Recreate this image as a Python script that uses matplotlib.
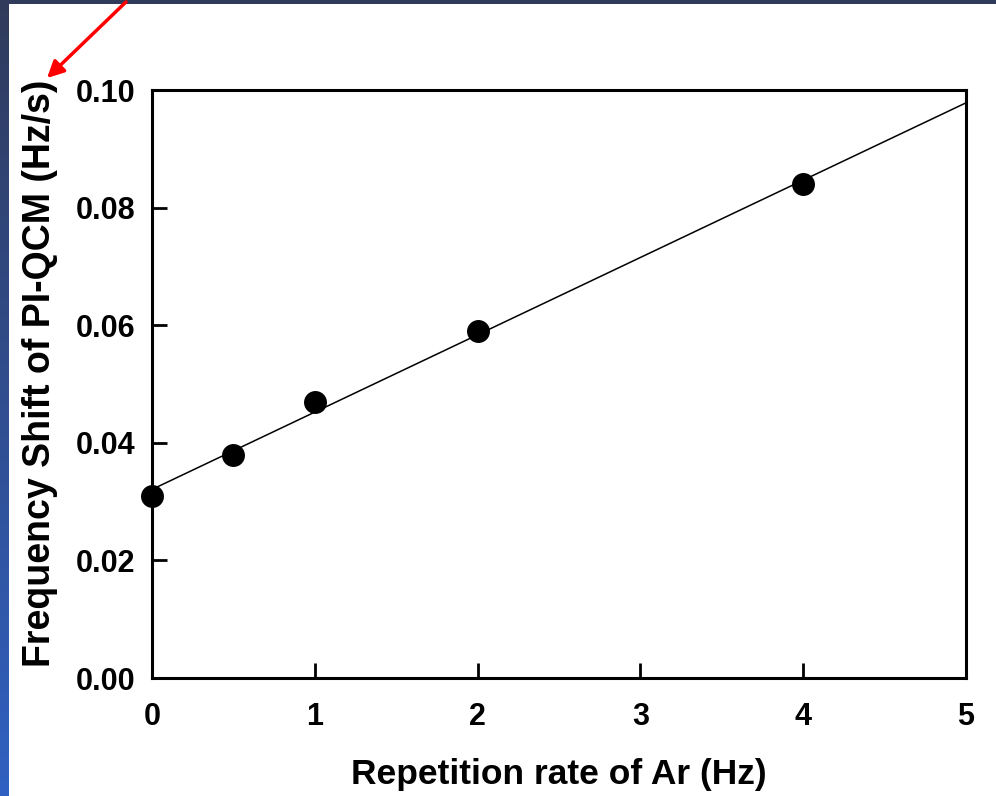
import numpy as np
import matplotlib.pyplot as plt
from matplotlib.patches import FancyArrowPatch, Rectangle

plt.rcParams['font.family'] = ['Liberation Sans', 'DejaVu Sans']
plt.rcParams['font.weight'] = 'bold'

# measured points
rep_rate = [0, 0.5, 1, 2, 4]
freq_shift = [0.031, 0.038, 0.047, 0.059, 0.084]
x_ticks = [0, 1, 2, 3, 4, 5]
y_ticks = [0.00, 0.02, 0.04, 0.06, 0.08, 0.10]

fig = plt.figure(figsize=(9.96, 7.96), dpi=100)

# slide-like frame: navy top band, gradient strip on the left
bg = fig.add_axes([0, 0, 1, 1], zorder=-10)
bg.set_axis_off()
bg.set_xlim(0, 996)
bg.set_ylim(796, 0)
grad = np.linspace(0, 1, 200).reshape(-1, 1)
top_col = np.array([0.19, 0.23, 0.36])
bot_col = np.array([0.19, 0.38, 0.76])
strip = top_col + (bot_col - top_col) * grad[..., None]
bg.imshow(strip, extent=[0, 9, 796, 0], aspect='auto')
bg.add_patch(Rectangle((0, 0), 996, 4, color=tuple(top_col), lw=0))

ax = fig.add_axes([0.1526, 0.1482, 0.8173, 0.7387])
ax.plot(rep_rate, freq_shift, 'o', color='black', markersize=15.5, clip_on=False, zorder=3)

# linear fit across the full axis
slope, intercept = np.polyfit(rep_rate, freq_shift, 1)
xf = np.array([0, 5])
ax.plot(xf, slope * xf + intercept, color='black', lw=1.1)

ax.set_xlim(0, 5)
ax.set_ylim(0, 0.10)
ax.set_xticks(x_ticks)
ax.set_yticks(y_ticks)
ax.set_xticklabels([str(t) for t in x_ticks])
ax.set_yticklabels(['%.2f' % t for t in y_ticks])
ax.tick_params(direction='in', length=11, width=2, labelsize=22)
ax.tick_params(axis='x', pad=17)
ax.tick_params(axis='y', pad=12)
for s in ax.spines.values():
    s.set_linewidth(2.2)

ax.set_xlabel('Repetition rate of Ar (Hz)', fontsize=25.5, fontweight='bold', labelpad=19)
ax.set_ylabel('Frequency Shift of PI-QCM (Hz/s)', fontsize=27, fontweight='bold')
ax.yaxis.set_label_coords(-0.115, 0.519)

# red arrow pointing at the y-axis label
fig.patches.append(FancyArrowPatch(
    (128 / 996, 1 - 0 / 796), (45 / 996, 1 - 80 / 796),
    transform=fig.transFigure, arrowstyle='-|>', mutation_scale=25,
    color='red', lw=2.5))

fig.savefig('out.png', dpi=100)
